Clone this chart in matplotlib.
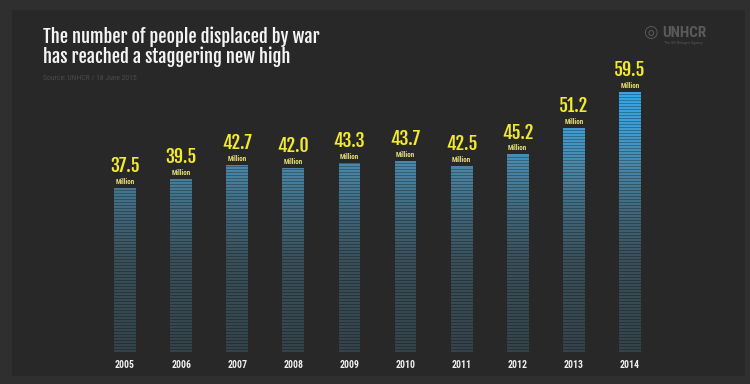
import matplotlib.pyplot as plt
from matplotlib.colors import LinearSegmentedColormap
import numpy as np

years = ['2005', '2006', '2007', '2008', '2009', '2010', '2011', '2012', '2013', '2014']
displaced = [37.5, 39.5, 42.7, 42.0, 43.3, 43.7, 42.5, 45.2, 51.2, 59.5]
value_labels = ['37.5', '39.5', '42.7', '42.0', '43.3', '43.7', '42.5', '45.2', '51.2', '59.5']

COND = ['Fjalla One', 'Oswald', 'DejaVu Sans']
NARROW = ['Roboto Condensed', 'DejaVu Sans']

W, H = 750, 384
fig = plt.figure(figsize=(W / 100, H / 100), dpi=100)
fig.patch.set_facecolor('#2f2f2f')

# inner panel
panel = fig.add_axes([12 / W, 1 - 376 / H, 733 / W, 366 / H])
panel.set_facecolor('#282828')
panel.set_xticks([])
panel.set_yticks([])
for s in panel.spines.values():
    s.set_visible(False)

# stripe colours depend on the absolute height
cmap = LinearSegmentedColormap.from_list(
    'bars', [(0.0, '#34434a'), (0.35, '#394f58'), (0.55, '#40687c'),
             (0.72, '#4a87a8'), (0.85, '#3e9bd0'), (1.0, '#36a6e6')])

ax = fig.add_axes([97 / W, 1 - 352 / H, 561 / W, 272 / H])
ax.patch.set_alpha(0)
ax.set_xlim(-0.5, len(years) - 0.5)
ax.set_ylim(0, 272 / 4.37)

step = 3 / 4.37
for i, v in enumerate(displaced):
    y0 = 0.0
    while y0 < v:
        h = min(step, v - y0)
        c = cmap(min(y0 + h, 60) / 60)
        ax.bar(i, h, bottom=y0, width=0.39, color=c, linewidth=0)
        if y0 + h < v:
            ax.bar(i, step * 0.3, bottom=y0 + h - step * 0.3, width=0.39,
                   color=np.array(c) * [0.72, 0.72, 0.72, 1], linewidth=0)
        y0 += step
    ax.annotate(value_labels[i], (i, v), xytext=(0, 11.5), textcoords='offset points',
                ha='center', va='baseline', color='#f2ea2e', fontsize=13,
                family=COND)
    ax.annotate('Million', (i, v), xytext=(0, 3), textcoords='offset points',
                ha='center', va='baseline', color='#e9e27a', fontsize=5,
                fontweight='bold', family=NARROW)

ax.set_xticks(range(len(years)))
ax.set_xticklabels(years, color='#f0f0f0', fontsize=7, fontweight='bold', family=NARROW)
ax.tick_params(axis='x', length=0, pad=6)
ax.set_yticks([])
for s in ax.spines.values():
    s.set_visible(False)

fig.text(43 / W, 1 - 43 / H, 'The number of people displaced by war',
         color='#f4f4f4', fontsize=13.2, family=COND,
         va='baseline', ha='left')
fig.text(43 / W, 1 - 63 / H, 'has reached a staggering new high',
         color='#f4f4f4', fontsize=13.2, family=COND,
         va='baseline', ha='left')
fig.text(43 / W, 1 - 79 / H, 'Source: UNHCR / 18 June 2015',
         color='#4a4a4a', fontsize=5.5, va='baseline', ha='left', family=NARROW)

# UNHCR mark
fig.text(662 / W, 1 - 37 / H, 'UNHCR', color='#5a5a5a', fontsize=11,
         fontweight='bold', va='baseline', ha='left', family=NARROW)
fig.text(664 / W, 1 - 44 / H, 'The UN Refugee Agency', color='#555555',
         fontsize=3, va='baseline', ha='left', family=NARROW)
fig.text(650 / W, 1 - 32 / H, '\u25CE', color='#5a5a5a', fontsize=12,
         va='center', ha='center')

fig.savefig('out.png', dpi=100, facecolor=fig.get_facecolor())
